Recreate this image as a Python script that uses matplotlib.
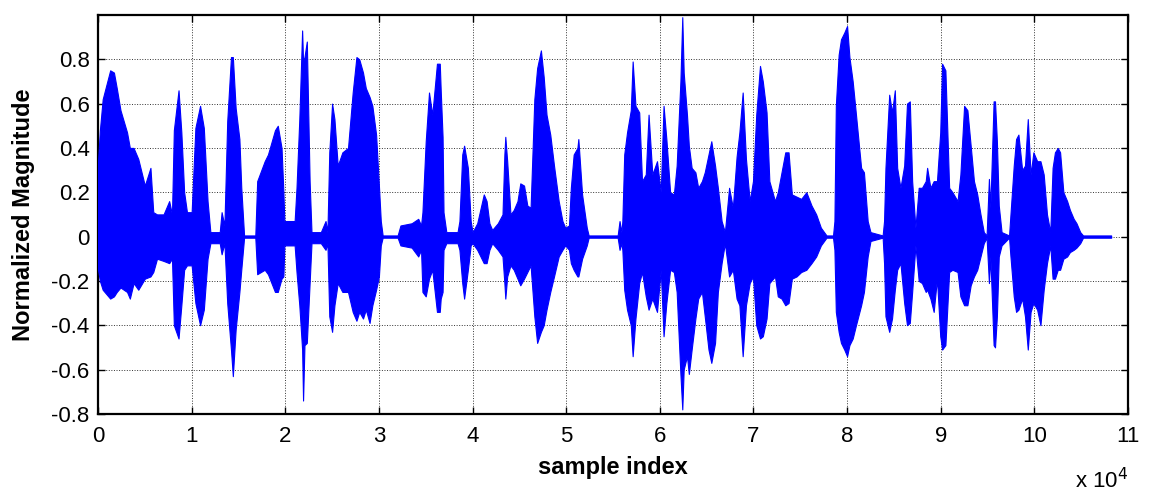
import matplotlib.pyplot as plt

plt.rcParams['font.family'] = ['Liberation Sans', 'DejaVu Sans']

# envelope of the speech waveform (sample index, max, min)
sample_idx = [
    0, 200, 500, 1300, 1700, 2000, 2400, 3100, 3400, 3800,
    4300, 5000, 5600, 5900, 6300, 7000, 7600, 7900, 8100, 8600,
    8900, 9200, 9500, 10000, 10400, 10900, 11300, 11700, 12000, 13000,
    13200, 13500, 13800, 14200, 14400, 14700, 15100, 15300, 15600, 16800,
    17000, 17800, 18150, 18900, 19200, 19600, 19800, 19900, 21000, 21200,
    21500, 21800, 21900, 22050, 22300, 22600, 22800, 23800, 24300, 24500,
    24700, 25000, 25250, 25600, 26100, 26700, 27200, 27600, 27900, 28300,
    28600, 29000, 29300, 29700, 30000, 30200, 30400, 32000, 32300, 33500,
    34200, 34500, 34650, 35000, 35350, 35700, 36200, 36500, 36600, 36800,
    36900, 37200, 38400, 38600, 38900, 39100, 39500, 39800, 40000, 40500,
    41200, 41500, 41800, 42100, 42700, 43200, 43400, 43500, 43700, 44050,
    44400, 44800, 45100, 45500, 45850, 46200, 46600, 46900, 47300, 47600,
    47900, 48300, 48700, 49200, 49600, 49900, 50300, 50500, 50800, 51200,
    51300, 51700, 52200, 52400, 55500, 55700, 55900, 56000, 56200, 56500,
    56900, 57100, 57400, 57800, 58100, 58500, 58800, 59200, 59700, 60100,
    60400, 60700, 61100, 61500, 61800, 62200, 62400, 62550, 62900, 63100,
    63400, 63800, 64100, 64500, 64800, 65200, 65500, 65900, 66200, 66600,
    66950, 67400, 67800, 68200, 68500, 68850, 69200, 69600, 69950, 70300,
    70700, 71000, 71400, 71700, 72300, 72600, 73000, 73400, 73750, 74100,
    74600, 75100, 75650, 76200, 76700, 77200, 77800, 78500, 78650, 78800,
    79100, 79350, 79700, 80000, 80250, 80600, 80950, 81500, 81800, 82200,
    82500, 83800, 83950, 84100, 84500, 84800, 85100, 85350, 85700, 86100,
    86400, 86700, 86950, 87300, 87650, 88000, 88400, 88550, 88900, 89250,
    89600, 89950, 90150, 90500, 90900, 91250, 91800, 92100, 92500, 92850,
    93200, 93550, 93900, 94250, 94600, 94900, 95150, 95300, 95650, 95800,
    96000, 96200, 96500, 97300, 97450, 97800, 98050, 98300, 98700, 99000,
    99300, 99600, 99900, 100300, 100650, 101000, 101350, 101700, 101950, 102200,
    102500, 102750, 103100, 103500, 103800, 104200, 104500, 104900, 105200, 108200,
]
env_max = [
    0.34, 0.48, 0.62, 0.75, 0.74, 0.67, 0.57, 0.47, 0.40, 0.40,
    0.35, 0.23, 0.31, 0.11, 0.10, 0.10, 0.16, 0.10, 0.48, 0.66,
    0.47, 0.20, 0.11, 0.11, 0.49, 0.59, 0.49, 0.16, 0.02, 0.02,
    0.11, 0.05, 0.52, 0.81, 0.81, 0.58, 0.44, 0.22, 0.005, 0.005,
    0.25, 0.34, 0.37, 0.48, 0.50, 0.40, 0.20, 0.07, 0.07, 0.22,
    0.53, 0.93, 0.79, 0.81, 0.88, 0.25, 0.02, 0.02, 0.07, 0.02,
    0.38, 0.60, 0.53, 0.32, 0.38, 0.40, 0.65, 0.81, 0.80, 0.74,
    0.67, 0.63, 0.59, 0.46, 0.23, 0.07, 0.005, 0.005, 0.05, 0.06,
    0.08, 0.05, 0.11, 0.43, 0.65, 0.55, 0.78, 0.78, 0.66, 0.45,
    0.11, 0.02, 0.02, 0.07, 0.37, 0.41, 0.31, 0.07, 0.02, 0.06,
    0.19, 0.16, 0.06, 0.03, 0.06, 0.10, 0.37, 0.45, 0.34, 0.10,
    0.12, 0.16, 0.24, 0.23, 0.14, 0.13, 0.62, 0.76, 0.84, 0.72,
    0.55, 0.46, 0.32, 0.16, 0.07, 0.04, 0.05, 0.22, 0.37, 0.40,
    0.44, 0.19, 0.04, 0.005, 0.005, 0.07, 0.02, 0.07, 0.37, 0.47,
    0.57, 0.79, 0.59, 0.56, 0.25, 0.28, 0.55, 0.28, 0.34, 0.20,
    0.59, 0.44, 0.20, 0.19, 0.32, 0.70, 0.99, 0.74, 0.55, 0.41,
    0.31, 0.29, 0.22, 0.25, 0.29, 0.37, 0.43, 0.32, 0.22, 0.07,
    0.02, 0.22, 0.13, 0.36, 0.47, 0.65, 0.35, 0.16, 0.25, 0.55,
    0.77, 0.70, 0.56, 0.25, 0.16, 0.20, 0.29, 0.38, 0.38, 0.19,
    0.18, 0.17, 0.20, 0.14, 0.10, 0.04, 0.005, 0.005, 0.07, 0.59,
    0.82, 0.89, 0.92, 0.95, 0.81, 0.70, 0.55, 0.31, 0.29, 0.07,
    0.02, 0.005, 0.07, 0.31, 0.64, 0.56, 0.66, 0.31, 0.22, 0.32,
    0.60, 0.61, 0.25, 0.04, 0.22, 0.22, 0.25, 0.31, 0.22, 0.25,
    0.25, 0.47, 0.78, 0.75, 0.22, 0.20, 0.16, 0.28, 0.59, 0.57,
    0.41, 0.25, 0.19, 0.10, 0.02, 0.005, 0.26, 0.13, 0.61, 0.61,
    0.43, 0.14, 0.02, 0.005, 0.10, 0.32, 0.44, 0.46, 0.30, 0.32,
    0.53, 0.28, 0.38, 0.34, 0.34, 0.28, 0.10, 0.02, 0.31, 0.38,
    0.40, 0.38, 0.20, 0.16, 0.12, 0.08, 0.06, 0.02, 0.005, 0.005,
]
env_min = [
    -0.15, -0.20, -0.24, -0.28, -0.27, -0.25, -0.23, -0.25, -0.28, -0.21,
    -0.24, -0.19, -0.18, -0.16, -0.10, -0.11, -0.12, -0.10, -0.40, -0.46,
    -0.31, -0.15, -0.13, -0.13, -0.30, -0.40, -0.33, -0.10, -0.03, -0.03,
    -0.08, -0.03, -0.30, -0.51, -0.63, -0.42, -0.25, -0.15, -0.005, -0.005,
    -0.17, -0.15, -0.17, -0.25, -0.25, -0.19, -0.18, -0.04, -0.04, -0.16,
    -0.31, -0.51, -0.74, -0.49, -0.48, -0.21, -0.03, -0.03, -0.06, -0.03,
    -0.36, -0.43, -0.31, -0.21, -0.25, -0.25, -0.34, -0.38, -0.34, -0.37,
    -0.33, -0.39, -0.31, -0.24, -0.18, -0.04, -0.005, -0.005, -0.04, -0.05,
    -0.09, -0.06, -0.25, -0.27, -0.19, -0.15, -0.34, -0.34, -0.28, -0.25,
    -0.06, -0.03, -0.03, -0.06, -0.21, -0.28, -0.15, -0.04, -0.03, -0.06,
    -0.12, -0.12, -0.06, -0.03, -0.06, -0.09, -0.21, -0.28, -0.18, -0.13,
    -0.15, -0.19, -0.22, -0.19, -0.16, -0.13, -0.36, -0.48, -0.43, -0.40,
    -0.33, -0.25, -0.18, -0.09, -0.06, -0.04, -0.06, -0.12, -0.15, -0.18,
    -0.18, -0.10, -0.04, -0.005, -0.005, -0.06, -0.03, -0.06, -0.24, -0.33,
    -0.40, -0.54, -0.37, -0.21, -0.16, -0.27, -0.33, -0.28, -0.34, -0.15,
    -0.45, -0.30, -0.15, -0.16, -0.25, -0.62, -0.78, -0.60, -0.54, -0.62,
    -0.51, -0.37, -0.28, -0.25, -0.36, -0.51, -0.57, -0.48, -0.25, -0.12,
    -0.03, -0.18, -0.15, -0.28, -0.31, -0.54, -0.31, -0.21, -0.18, -0.40,
    -0.46, -0.45, -0.37, -0.21, -0.18, -0.27, -0.28, -0.31, -0.30, -0.19,
    -0.18, -0.16, -0.15, -0.12, -0.09, -0.04, -0.005, -0.005, -0.06, -0.34,
    -0.43, -0.48, -0.51, -0.54, -0.49, -0.46, -0.40, -0.31, -0.25, -0.09,
    -0.02, -0.005, -0.12, -0.36, -0.43, -0.37, -0.24, -0.15, -0.12, -0.30,
    -0.40, -0.39, -0.25, -0.04, -0.20, -0.21, -0.25, -0.24, -0.28, -0.34,
    -0.19, -0.45, -0.51, -0.49, -0.16, -0.15, -0.16, -0.27, -0.31, -0.31,
    -0.22, -0.18, -0.15, -0.09, -0.03, -0.005, -0.21, -0.09, -0.49, -0.50,
    -0.36, -0.09, -0.04, -0.005, -0.09, -0.27, -0.34, -0.33, -0.28, -0.36,
    -0.51, -0.34, -0.30, -0.33, -0.40, -0.24, -0.12, -0.04, -0.19, -0.19,
    -0.15, -0.15, -0.10, -0.09, -0.07, -0.06, -0.05, -0.03, -0.005, -0.005,
]

x_ticks = list(range(0, 110001, 10000))
x_ticklabels = [str(i) for i in range(12)]
y_ticks = [-0.8, -0.6, -0.4, -0.2, 0, 0.2, 0.4, 0.6, 0.8]
y_ticklabels = ['-0.8', '-0.6', '-0.4', '-0.2', '0', '0.2', '0.4', '0.6', '0.8']

fig = plt.figure(figsize=(11.49, 4.98), dpi=100)
ax = fig.add_axes([0.0853, 0.169, 0.8964, 0.801])

ax.fill_between(sample_idx, env_min, env_max, color='#0000ff', linewidth=0.8, edgecolor='#0000ff', zorder=3)
ax.plot(sample_idx, [0] * len(sample_idx), color='#0000ff', linewidth=1, zorder=3)

ax.set_xlim(0, 110000)
ax.set_ylim(-0.8, 1.0)
ax.set_xticks(x_ticks)
ax.set_xticklabels(x_ticklabels)
ax.set_yticks(y_ticks)
ax.set_yticklabels(y_ticklabels)

ax.grid(color='#333333', linestyle=':', linewidth=0.7)
for s in ax.spines.values():
    s.set_linewidth(1.6)
ax.tick_params(direction='in', top=True, right=True, length=5, width=1, labelsize=16)
ax.tick_params(axis='x', pad=9)
ax.tick_params(axis='y', pad=6)

ax.set_xlabel('sample index', fontsize=17, fontweight='bold', labelpad=6)
ax.set_ylabel('Normalized Magnitude', fontsize=17, fontweight='bold', labelpad=12)
ax.text(1.0, -0.135, 'x 10$^4$', transform=ax.transAxes, fontsize=16, ha='right', va='top')

fig.savefig('out.png', dpi=100)
